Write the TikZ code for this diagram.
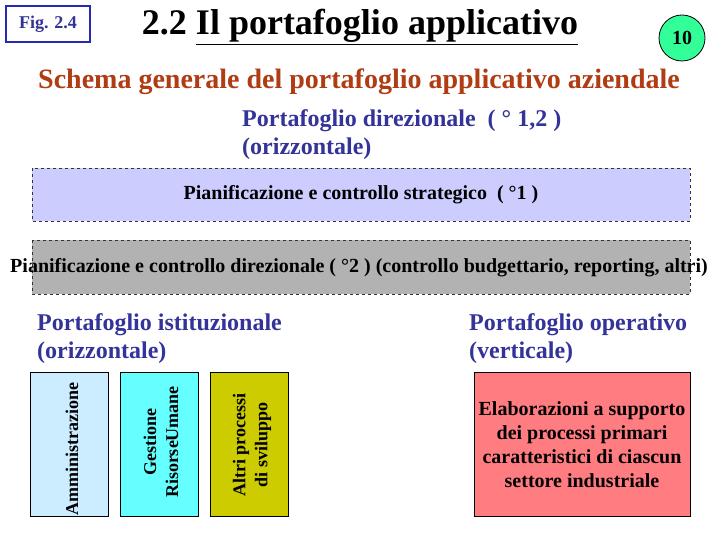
\documentclass[tikz,border=0pt]{standalone}
\usepackage{fontspec}
\setmainfont{Liberation Serif}
\usepackage{graphicx}
\definecolor{navy}{HTML}{333399}
\definecolor{brownred}{HTML}{B03C14}
\definecolor{mint}{HTML}{33FF99}
\definecolor{lav}{HTML}{CCCCFF}
\definecolor{grayb}{HTML}{B2B2B2}
\definecolor{lblue}{HTML}{CCECFF}
\definecolor{cyanb}{HTML}{66FFFF}
\definecolor{olive2}{HTML}{CCCC00}
\definecolor{salmon}{HTML}{FF7C80}
\begin{document}
\begin{tikzpicture}[x=1pt,y=-1pt,
  dbox/.style={draw=black!80,dashed,line width=0.8pt},
  pbox/.style={draw=black,line width=0.8pt},
  bluetxt/.style={text=navy,font=\bfseries\fontsize{24}{28}\selectfont,align=left,anchor=north west,inner sep=0pt},
  vtxt/.style={font=\bfseries\fontsize{18}{22}\selectfont,align=center,rotate=90,inner sep=0pt}]
\useasboundingbox[fill=white] (0,0) rectangle (720,540);
% header
\node[draw=navy!80!blue,line width=2pt,minimum width=84pt,minimum height=36pt,text=navy,font=\bfseries\fontsize{18}{18}\selectfont] (fig) at (48,24) {Fig. 2.4};
\node[font=\bfseries\fontsize{36}{38}\selectfont,inner sep=0pt] (title) at (360,27) {2.2 \underline{Il portafoglio applicativo}};
\node[circle,draw=black,line width=0.8pt,fill=mint,minimum size=46pt,inner sep=0pt,font=\bfseries\fontsize{20}{20}\selectfont] (num) at (682,38) {10};
\node[text=brownred,font=\bfseries\fontsize{28}{30}\selectfont,inner sep=0pt] (sub) at (359,82) {Schema generale del portafoglio applicativo aziendale};
\node[bluetxt] (dir) at (242,109) {Portafoglio direzionale\ \ ( ° 1,2 )\\(orizzontale)};
% dashed boxes
\draw[dbox,fill=lav] (32,168) rectangle (690,221);
\node[font=\bfseries\fontsize{20}{20}\selectfont,inner sep=0pt] (strat) at (361,195) {Pianificazione e controllo strategico\ \ ( °1 )};
\draw[dbox,fill=grayb] (32,240) rectangle (690,294);
\node[font=\bfseries\fontsize{20}{20}\selectfont,inner sep=0pt] (direz) at (359,268) {Pianificazione e controllo direzionale ( °2 ) (controllo budgettario, reporting, altri)};
% lower labels
\node[bluetxt] (ist) at (37,313) {Portafoglio istituzionale\\(orizzontale)};
\node[bluetxt] (oper) at (469,313) {Portafoglio operativo\\(verticale)};
% vertical boxes
\draw[pbox,fill=lblue] (30,372) rectangle (108,516);
\node[vtxt] (amm) at (72,449) {Amministrazione};
\draw[pbox,fill=cyanb] (120,372) rectangle (198,516);
\node[vtxt] (ges) at (161,442) {Gestione\\RisorseUmane};
\draw[pbox,fill=olive2] (210,372) rectangle (288,516);
\node[vtxt] (alt) at (252,445) {Altri processi\\di sviluppo};
\draw[pbox,fill=salmon] (474,372) rectangle (690,516);
\node[font=\bfseries\fontsize{20}{24}\selectfont,align=center,inner sep=0pt] (elab) at (582,445) {Elaborazioni a supporto\\dei processi primari\\caratteristici di ciascun\\settore industriale};
\end{tikzpicture}
\end{document}
